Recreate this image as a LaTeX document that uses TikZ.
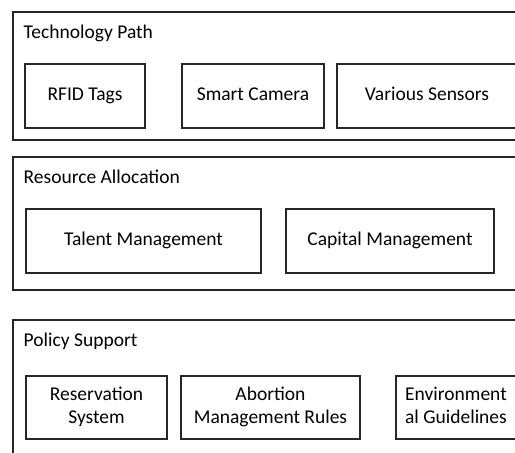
\documentclass[tikz,border=0pt]{standalone}
\usepackage{fontspec}
\setmainfont{Carlito}
\usepackage{tikz}

\begin{document}
\begin{tikzpicture}[x=1pt, y=-1pt,
    frame/.style={draw=black!85, line width=1.4pt},
    heading/.style={anchor=base west, inner sep=0pt},
    item/.style={draw=black!85, line width=1.4pt, align=center,
      minimum height=64pt, inner sep=2pt}]
    \useasboundingbox (0,0) rectangle (515,453) ;
    \clip (0,0) rectangle (515,453) ;
    \fontsize{19.5}{23.5}\selectfont
    % outer frames, running off to the right
    \draw [frame] (13,12) rectangle (540,140) ;
    \draw [frame] (13,157) rectangle (540,290) ;
    \draw [frame] (13,320) rectangle (540,480) ;
    \node (tech) [heading] at (23.5,38.5) {Technology Path} ;
    \node (res) [heading] at (23.5,183.5) {Resource Allocation} ;
    \node (pol) [heading] at (23.5,346) {Policy Support} ;
    % technology path
    \node (rfid) [item, minimum width=120pt] at (85,96) {\strut RFID Tags} ;
    \node (camera) [item, minimum width=142pt] at (253,96) {\strut Smart Camera} ;
    \node (sensors) [item, minimum width=180pt] at (427,96) {\strut Various Sensors} ;
    % resource allocation
    \node (talent) [item, minimum width=235pt] at (143.5,241) {\strut Talent Management} ;
    \node (capital) [item, minimum width=208pt] at (390,241) {\strut Capital Management} ;
    % policy support
    \node (reserve) [item, minimum width=141pt, minimum height=63pt] at (96.5,407.5)
      {\strut Reservation\\\strut System} ;
    \node (abort) [item, minimum width=179pt, minimum height=63pt] at (270.5,407.5)
      {\strut Abortion\\\strut Management Rules} ;
    \node (envir) [item, minimum width=120pt, minimum height=63pt] at (456,407.5)
      {\strut Environment\\\strut al Guidelines} ;
  \end{tikzpicture}
\end{document}
